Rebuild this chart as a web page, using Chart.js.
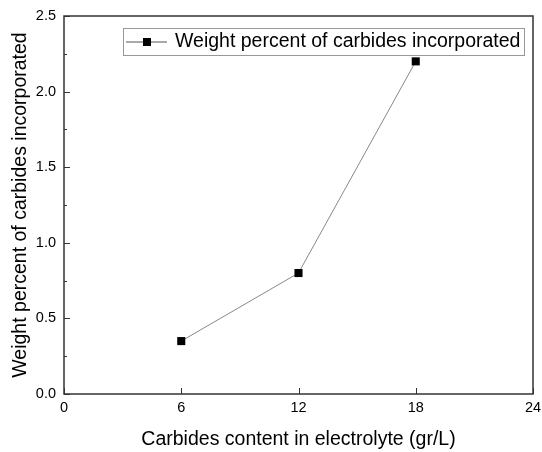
<!DOCTYPE html>
<html>
<head>
<meta charset="utf-8">
<script src="https://cdn.jsdelivr.net/npm/chart.js@4"></script>
<style>
html,body{margin:0;padding:0;background:#fff;}
#wrap{width:542px;height:452px;position:relative;}
</style>
</head>
<body>
<div id="wrap"><canvas id="c" width="542" height="452"></canvas></div>
<script>
const carbideContent = [6, 12, 18];
const weightPercent = [0.35, 0.8, 2.2];
const seriesLabel = 'Weight percent of carbides incorporated';
const xTitle = 'Carbides content in electrolyte (gr/L)';
const yTitle = 'Weight percent of carbides incorporated';
const xTicks = [0, 6, 12, 18, 24];
const yTicks = [0, 0.5, 1.0, 1.5, 2.0, 2.5];
const yMinorTicks = [0.25, 0.75, 1.25, 1.75, 2.25];

const FONT = 'Liberation Sans, Arial, sans-serif';

const framePlugin = {
  id: 'frame',
  afterDraw(chart) {
    const {ctx, chartArea: a, scales} = chart;
    ctx.save();
    ctx.strokeStyle = '#333';
    ctx.lineWidth = 1.5;
    ctx.strokeRect(a.left, a.top, a.right - a.left, a.bottom - a.top);
    ctx.lineWidth = 1;
    ctx.beginPath();
    xTicks.forEach(v => {
      const x = Math.round(scales.x.getPixelForValue(v)) + 0.5;
      ctx.moveTo(x, a.bottom); ctx.lineTo(x, a.bottom - 6);
    });
    yTicks.forEach(v => {
      const y = Math.round(scales.y.getPixelForValue(v)) + 0.5;
      ctx.moveTo(a.left, y); ctx.lineTo(a.left + 6, y);
    });
    yMinorTicks.forEach(v => {
      const y = Math.round(scales.y.getPixelForValue(v)) + 0.5;
      ctx.moveTo(a.left, y); ctx.lineTo(a.left + 3, y);
    });
    ctx.stroke();
    // legend
    const lx = 123, ly = 28, lw = 401, lh = 27;
    ctx.strokeStyle = '#999';
    ctx.lineWidth = 1;
    ctx.strokeRect(lx + 0.5, ly + 0.5, lw, lh);
    const cy = ly + lh / 2 + 0.5;
    ctx.strokeStyle = '#555';
    ctx.beginPath();
    ctx.moveTo(lx + 3, cy); ctx.lineTo(lx + 44, cy);
    ctx.stroke();
    ctx.fillStyle = '#000';
    ctx.fillRect(lx + 20, cy - 4, 8, 8);
    ctx.font = '19.5px ' + FONT;
    ctx.textBaseline = 'middle';
    ctx.textAlign = 'left';
    ctx.fillText(chart.data.datasets[0].label, lx + 52, cy);
    ctx.restore();
  }
};

new Chart(document.getElementById('c'), {
  type: 'scatter',
  data: {
    datasets: [{
      label: seriesLabel,
      data: carbideContent.map((x, i) => ({x: x, y: weightPercent[i]})),
      showLine: true,
      borderColor: '#888',
      borderWidth: 1,
      pointStyle: 'rect',
      pointRadius: 5.7,
      pointBackgroundColor: '#000',
      pointBorderColor: '#000',
      pointBorderWidth: 0
    }]
  },
  options: {
    responsive: false,
    animation: false,
    devicePixelRatio: 1,
    layout: {padding: {top: 16, right: 9, left: 0, bottom: 0}},
    plugins: {legend: {display: false}, tooltip: {enabled: false}},
    scales: {
      x: {
        type: 'linear', min: 0, max: 24,
        afterBuildTicks(s) { s.ticks = xTicks.map(v => ({value: v})); },
        afterFit(s) { s.height = 58; s.paddingRight = 0; s.paddingLeft = 0; },
        grid: {display: false, drawTicks: false},
        border: {display: false},
        ticks: {color: '#000', font: {family: FONT, size: 14.5}, padding: 5, maxRotation: 0,
          callback: v => String(v)},
        title: {display: true, text: xTitle, color: '#000', font: {family: FONT, size: 19.5}, padding: {top: 0, bottom: 1}}
      },
      y: {
        type: 'linear', min: 0, max: 2.5,
        afterBuildTicks(s) { s.ticks = yTicks.map(v => ({value: v})); },
        afterFit(s) { s.width = 64; s.paddingTop = 0; s.paddingBottom = 0; },
        grid: {display: false, drawTicks: false},
        border: {display: false},
        ticks: {color: '#000', font: {family: FONT, size: 14.5}, padding: 8,
          callback: v => Number(v).toFixed(1)},
        title: {display: true, text: yTitle, color: '#000', font: {family: FONT, size: 19.5}, padding: {top: 8.5, bottom: 0}}
      }
    }
  },
  plugins: [framePlugin]
});
</script>
</body>
</html>
